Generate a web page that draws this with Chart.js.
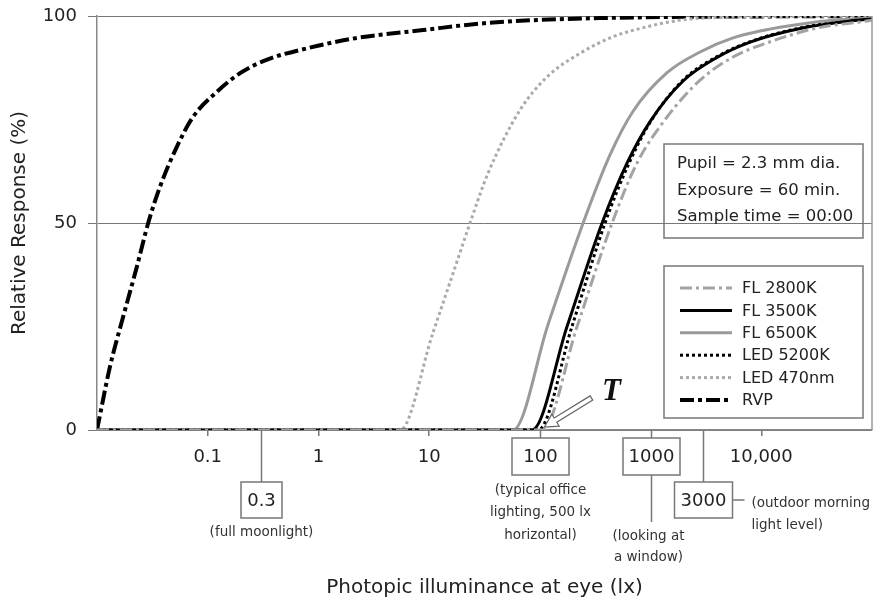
<!DOCTYPE html>
<html>
<head>
<meta charset="utf-8">
<script src="https://cdn.jsdelivr.net/npm/chart.js@4.4.0/dist/chart.umd.min.js"></script>
<style>
  html, body { margin: 0; padding: 0; background: #fff; }
</style>
</head>
<body>
<canvas id="chart" width="881" height="600"></canvas>
<script>
// --- 軸與標註 ---
const X_TICKS = [0.1, 1, 10, 10000];
const Y_TICKS = [0, 50, 100];
const BOX_TICKS = [0.3, 100, 1000, 3000];
const BOX_NOTES = [
    ['(full moonlight)'],
    ['(typical office', 'lighting, 500 lx', 'horizontal)'],
    ['(looking at', 'a window)'],
    ['(outdoor morning', 'light level)']
];
const INFO_LINES = ['Pupil = 2.3 mm dia.', 'Exposure = 60 min.', 'Sample time = 00:00'];
const T_LUX = 110;

// --- 曲線 (lx, %) ---
const fl2800Lux  = [0.01, 104.7, 217, 449, 755, 1409, 2800, 5560, 11270, 31900, 90300, 100000];
const fl2800Resp = [0, 0, 25, 50, 64.5, 75.6, 84.5, 90.1, 93.5, 97.1, 98.8, 99];

const fl3500Lux  = [0.01, 85.1, 176, 365, 614, 989, 1966, 3990, 7930, 22430, 63400, 100000];
const fl3500Resp = [0, 0, 25, 50, 64.5, 74.5, 84.3, 90, 93.7, 97, 98.8, 99.3];

const fl6500Lux  = [0.01, 57.3, 118.6, 246, 431, 695, 1409, 2800, 5560, 15740, 44570, 100000];
const fl6500Resp = [0, 0, 25.5, 50, 66.5, 77, 86.3, 91.3, 94.7, 97.4, 99, 99.5];

const led5200Lux  = [0.01, 96.4, 195, 388, 640, 1011, 1966, 3990, 7930, 22430, 63400, 100000];
const led5200Resp = [0, 0, 25, 50, 64.5, 74.7, 84.5, 90.2, 93.8, 97.1, 98.9, 99.4];

const led470Lux  = [0.01, 5.46, 10.8, 17.5, 23.4, 34, 66.2, 116.2, 231, 459, 929, 1847, 3670, 100000];
const led470Resp = [0, 0, 23.4, 40, 50, 62, 77.3, 85.3, 91, 95, 97.4, 99, 99.6, 100];

const rvpLux  = [0.01, 0.0131, 0.0172, 0.0229, 0.029, 0.037, 0.0526, 0.0736, 0.12, 0.196, 0.34, 0.79, 2.23, 8.8, 33, 350, 100000];
const rvpResp = [0, 15.3, 27.3, 39.4, 50, 58.7, 68.4, 75.6, 81.6, 86.2, 89.4, 92.2, 94.7, 96.6, 98.3, 99.5, 100];

const FONT = "'DejaVu Sans', Verdana, sans-serif";
Chart.defaults.font.family = FONT;
Chart.defaults.color = '#222';

function pts(xs, ys) {
    return xs.map((v, i) => ({ x: v, y: ys[i] }));
}

function series(label, xs, ys, color, width, dash) {
    return {
        label: label,
        data: pts(xs, ys),
        borderColor: color,
        borderWidth: width,
        borderDash: dash,
        borderCapStyle: 'butt',
        pointRadius: 0,
        cubicInterpolationMode: 'monotone',
        fill: false
    };
}

// 標註、圖例、資訊框
const overlayPlugin = {
    id: 'overlay',
    afterDraw(chart) {
        const { ctx, chartArea: a, scales: { x } } = chart;
        const base = a.bottom;
        ctx.save();

        // 右框線
        ctx.strokeStyle = '#999';
        ctx.lineWidth = 1.5;
        ctx.beginPath();
        ctx.moveTo(a.right, a.top);
        ctx.lineTo(a.right, a.bottom);
        ctx.stroke();

        // 帶框刻度
        const boxes = [
            { top: 52, h: 36, w: 41 },
            { top: 8, h: 37, w: 57 },
            { top: 8, h: 37, w: 57 },
            { top: 52, h: 36, w: 58 }
        ];
        ctx.lineWidth = 1.5;
        ctx.strokeStyle = '#777';
        BOX_TICKS.forEach((v, i) => {
            const px = Math.round(x.getPixelForValue(v)) + 0.5;
            const b = boxes[i];
            ctx.beginPath();
            ctx.moveTo(px, base);
            ctx.lineTo(px, base + b.top);
            ctx.stroke();
            ctx.strokeRect(px - b.w / 2, base + b.top, b.w, b.h);
            ctx.fillStyle = '#222';
            ctx.font = '18px ' + FONT;
            ctx.textAlign = 'center';
            ctx.textBaseline = 'middle';
            ctx.fillText(String(v), px, base + b.top + b.h / 2 + 1);

            ctx.font = '13.5px ' + FONT;
            ctx.fillStyle = '#333';
            const notes = BOX_NOTES[i];
            if (i === 0) {
                ctx.fillText(notes[0], px, base + 102);
            } else if (i === 1) {
                notes.forEach((t, k) => ctx.fillText(t, px, base + 60 + k * 22.5));
            } else if (i === 2) {
                ctx.beginPath();
                ctx.moveTo(px, base + b.top + b.h);
                ctx.lineTo(px, base + 92);
                ctx.stroke();
                notes.forEach((t, k) => ctx.fillText(t, px - 3, base + 106 + k * 21));
            } else {
                const cy = base + b.top + b.h / 2;
                ctx.beginPath();
                ctx.moveTo(px + b.w / 2, cy);
                ctx.lineTo(px + b.w / 2 + 12, cy);
                ctx.stroke();
                ctx.textAlign = 'left';
                notes.forEach((t, k) => ctx.fillText(t, px + b.w / 2 + 19, base + 73 + k * 22));
            }
        });

        // 資訊框
        const bx = a.right - 208, bw = 199;
        ctx.strokeStyle = '#777';
        ctx.lineWidth = 1.5;
        ctx.strokeRect(bx, 144, bw, 94);
        ctx.fillStyle = '#222';
        ctx.font = '16.5px ' + FONT;
        ctx.textAlign = 'left';
        ctx.textBaseline = 'middle';
        INFO_LINES.forEach((t, k) => ctx.fillText(t, bx + 13, 164 + k * 26.5));

        // 圖例
        ctx.font = '16px ' + FONT;
        ctx.strokeRect(bx, 266, bw, 152);
        chart.data.datasets.forEach((ds, k) => {
            const ly = 288 + k * 22.4;
            ctx.save();
            ctx.strokeStyle = ds.borderColor;
            ctx.lineWidth = ds.borderWidth;
            ctx.setLineDash(ds.borderDash || []);
            ctx.beginPath();
            ctx.moveTo(bx + 16, ly);
            ctx.lineTo(bx + 68, ly);
            ctx.stroke();
            ctx.restore();
            ctx.fillStyle = '#222';
            ctx.fillText(ds.label, bx + 78, ly + 1);
        });

        // T 箭頭
        const tipX = x.getPixelForValue(T_LUX), tipY = base - 3;
        const tailX = tipX + 47, tailY = tipY - 29;
        const len = Math.hypot(tailX - tipX, tailY - tipY);
        const dx = (tipX - tailX) / len, dy = (tipY - tailY) / len;
        const nx = -dy, ny = dx;
        const hw = 2.5, hh = 7, hl = 13;
        const neckX = tipX - dx * hl, neckY = tipY - dy * hl;
        ctx.beginPath();
        ctx.moveTo(tailX + nx * hw, tailY + ny * hw);
        ctx.lineTo(neckX + nx * hw, neckY + ny * hw);
        ctx.lineTo(neckX + nx * hh, neckY + ny * hh);
        ctx.lineTo(tipX, tipY);
        ctx.lineTo(neckX - nx * hh, neckY - ny * hh);
        ctx.lineTo(neckX - nx * hw, neckY - ny * hw);
        ctx.lineTo(tailX - nx * hw, tailY - ny * hw);
        ctx.closePath();
        ctx.fillStyle = '#fff';
        ctx.fill();
        ctx.strokeStyle = '#666';
        ctx.lineWidth = 1.2;
        ctx.stroke();
        ctx.fillStyle = '#111';
        ctx.font = "bold italic 31px 'Liberation Serif', serif";
        ctx.textAlign = 'center';
        ctx.fillText('T', tipX + 67, tipY - 35);

        ctx.restore();
    }
};

new Chart(document.getElementById('chart'), {
    type: 'line',
    data: {
        datasets: [
            series('FL 2800K', fl2800Lux, fl2800Resp, '#a3a3a3', 3, [12, 4, 3, 4]),
            series('FL 3500K', fl3500Lux, fl3500Resp, '#000', 3, []),
            series('FL 6500K', fl6500Lux, fl6500Resp, '#9a9a9a', 3, []),
            series('LED 5200K', led5200Lux, led5200Resp, '#000', 3, [3, 3]),
            series('LED 470nm', led470Lux, led470Resp, '#aaa', 3, [3, 3]),
            series('RVP', rvpLux, rvpResp, '#000', 4, [14, 4, 4, 4])
        ]
    },
    options: {
        responsive: false,
        animation: false,
        layout: { padding: { top: 16, right: 9, left: 0, bottom: 0 } },
        plugins: {
            legend: { display: false },
            tooltip: { enabled: false }
        },
        scales: {
            x: {
                type: 'logarithmic',
                min: 0.01,
                max: 100000,
                afterBuildTicks: s => { s.ticks = X_TICKS.map(v => ({ value: v })); },
                afterFit: s => { s.height = 170; },
                ticks: {
                    autoSkip: false,
                    maxRotation: 0,
                    padding: 11,
                    font: { size: 18 },
                    color: '#222',
                    callback: v => Number(v).toLocaleString('en-US')
                },
                grid: { drawOnChartArea: false, drawTicks: true, tickLength: 6, color: '#777', lineWidth: 1.5 },
                border: { color: '#888', width: 1.5 },
                title: {
                    display: true,
                    text: 'Photopic illuminance at eye (lx)',
                    font: { size: 20 },
                    color: '#222',
                    padding: { top: 0, bottom: 0 }
                }
            },
            y: {
                min: 0,
                max: 100,
                afterBuildTicks: s => { s.ticks = Y_TICKS.map(v => ({ value: v })); },
                afterFit: s => { s.width = 97; s.paddingTop = 0; s.paddingBottom = 0; },
                ticks: { padding: 11, font: { size: 18 }, color: '#222' },
                grid: { color: '#777', lineWidth: 1, tickLength: 9 },
                border: { color: '#888', width: 1.5 },
                title: {
                    display: true,
                    text: 'Relative Response (%)',
                    font: { size: 20 },
                    color: '#222',
                    padding: { top: 8, bottom: 0 }
                }
            }
        }
    },
    plugins: [overlayPlugin]
});
</script>
</body>
</html>
